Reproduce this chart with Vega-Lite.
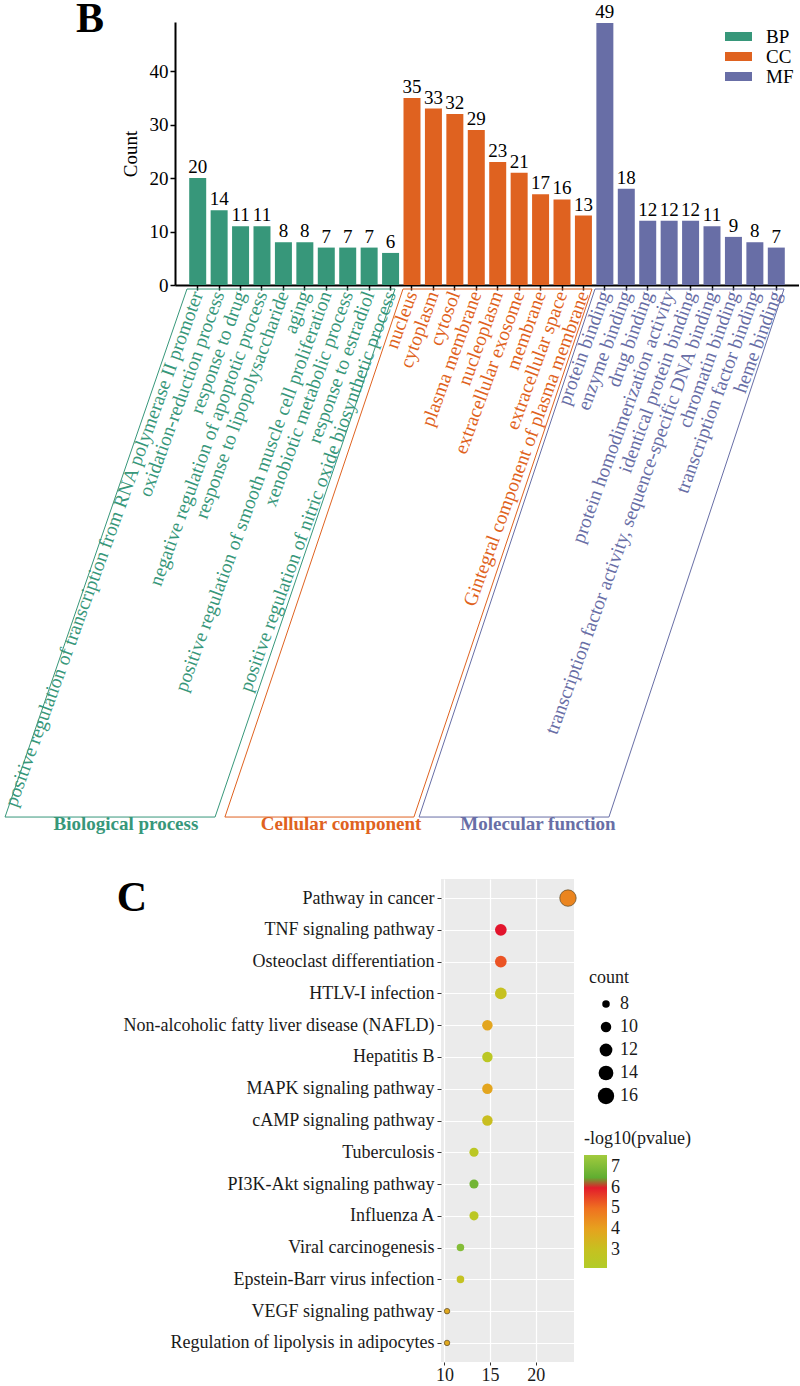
{
  "$schema": "https://vega.github.io/schema/vega-lite/v6.json",
  "padding": {"left": 0, "top": -2, "right": 0, "bottom": 0},
  "background": "white",
  "spacing": 42,
  "config": {
    "font": "Liberation Serif",
    "view": {"stroke": null},
    "axis": {"labelFont": "Liberation Serif", "titleFont": "Liberation Serif"},
    "legend": {"labelFont": "Liberation Serif", "titleFont": "Liberation Serif"},
    "text": {"font": "Liberation Serif"}
  },
  "resolve": {"scale": {"color": "independent", "size": "independent", "x": "independent", "y": "independent"}, "legend": {"color": "independent", "size": "independent"}},
  "vconcat": [
    {
      "width": 624,
      "height": 263,
      "resolve": {"scale": {"x": "independent"}},
      "layer": [
        {
          "data": {"values": [
            {"term": "positive regulation of transcription from RNA polymerase II promoter", "cat": "BP", "count": 20},
            {"term": "oxidation-reduction process", "cat": "BP", "count": 14},
            {"term": "response to drug", "cat": "BP", "count": 11},
            {"term": "negative regulation of apoptotic process", "cat": "BP", "count": 11},
            {"term": "response to lipopolysaccharide", "cat": "BP", "count": 8},
            {"term": "aging", "cat": "BP", "count": 8},
            {"term": "positive regulation of smooth muscle cell proliferation", "cat": "BP", "count": 7},
            {"term": "xenobiotic metabolic process", "cat": "BP", "count": 7},
            {"term": "response to estradiol", "cat": "BP", "count": 7},
            {"term": "positive regulation of nitric oxide biosynthetic process", "cat": "BP", "count": 6},
            {"term": "nucleus", "cat": "CC", "count": 35},
            {"term": "cytoplasm", "cat": "CC", "count": 33},
            {"term": "cytosol", "cat": "CC", "count": 32},
            {"term": "plasma membrane", "cat": "CC", "count": 29},
            {"term": "nucleoplasm", "cat": "CC", "count": 23},
            {"term": "extracellular exosome", "cat": "CC", "count": 21},
            {"term": "membrane", "cat": "CC", "count": 17},
            {"term": "extracellular space", "cat": "CC", "count": 16},
            {"term": "Gintegral component of plasma membrane", "cat": "CC", "count": 13},
            {"term": "protein binding", "cat": "MF", "count": 49},
            {"term": "enzyme binding", "cat": "MF", "count": 18},
            {"term": "drug binding", "cat": "MF", "count": 12},
            {"term": "protein homodimerization activity", "cat": "MF", "count": 12},
            {"term": "identical protein binding", "cat": "MF", "count": 12},
            {"term": "transcription factor activity, sequence-specific DNA binding", "cat": "MF", "count": 11},
            {"term": "chromatin binding", "cat": "MF", "count": 9},
            {"term": "transcription factor binding", "cat": "MF", "count": 8},
            {"term": "heme binding", "cat": "MF", "count": 7}
          ]},
          "layer": [
            {
              "mark": {"type": "bar"},
              "encoding": {
                "x": {"field": "term", "type": "nominal", "sort": null,
                  "scale": {"paddingInner": 0.207, "paddingOuter": 0.663},
                  "axis": {"title": null, "labels": false, "ticks": true, "tickSize": 5, "tickColor": "black", "tickWidth": 1.5, "domainColor": "black", "domainWidth": 2}},
                "y": {"field": "count", "type": "quantitative",
                  "scale": {"domain": [0, 49.2], "nice": false, "zero": true},
                  "axis": {"title": "Count", "titleFont": "Liberation Serif", "labelFont": "Liberation Serif", "titleFontSize": 19, "titleFontWeight": "normal", "titleColor": "black", "titlePadding": 9, "values": [0, 10, 20, 30, 40], "labelFontSize": 19, "labelColor": "black", "tickColor": "black", "tickSize": 5, "tickWidth": 1.5, "domainColor": "black", "domainWidth": 2, "labelPadding": 2, "labelFlush": false, "grid": false}},
                "color": {"field": "cat", "type": "nominal",
                  "scale": {"domain": ["BP", "CC", "MF"], "range": ["#37977a", "#df6220", "#686ea6"]},
                  "legend": {"title": null, "orient": "top-right", "offset": 5, "padding": 0, "labelFont": "Liberation Serif", "labelFontSize": 19, "labelColor": "black", "symbolType": "M-3,-1H3V1H-3Z", "symbolSize": 81, "symbolOffset": 9, "symbolStrokeWidth": 0, "symbolOpacity": 1, "labelOffset": 18, "rowPadding": 0}}
              }
            },
            {
              "mark": {"type": "text", "baseline": "alphabetic", "dy": -5, "fontSize": 19, "color": "black"},
              "encoding": {
                "x": {"field": "term", "type": "nominal", "sort": null},
                "y": {"field": "count", "type": "quantitative", "scale": {"domain": [0, 49.2], "nice": false, "zero": true}, "axis": {"title": "Count", "titleFont": "Liberation Serif", "labelFont": "Liberation Serif", "titleFontSize": 19, "titleFontWeight": "normal", "titleColor": "black", "titlePadding": 9, "values": [0, 10, 20, 30, 40], "labelFontSize": 19, "labelColor": "black", "tickColor": "black", "tickSize": 5, "tickWidth": 1.5, "domainColor": "black", "domainWidth": 2, "labelPadding": 2, "labelFlush": false, "grid": false}},
                "text": {"field": "count", "type": "quantitative"}
              }
            },
            {
              "mark": {"type": "text", "angle": 290, "align": "right", "baseline": "middle", "dx": -6.6, "dy": 2.3, "fontSize": 19.5},
              "encoding": {
                "x": {"field": "term", "type": "nominal", "sort": null},
                "y": {"datum": 0, "type": "quantitative"},
                "text": {"field": "term", "type": "nominal"},
                "color": {"field": "cat", "type": "nominal"}
              }
            }
          ]
        },
        {
          "layer": [
            {
              "data": {"values": [
                {"cat": "BP", "k": 0, "fx": -8.99, "fy": -99.53},
                {"cat": "BP", "k": 1, "fx": -0.5, "fy": -0.75},
                {"cat": "BP", "k": 2, "fx": 9.21, "fy": -0.75},
                {"cat": "BP", "k": 3, "fx": 0.81, "fy": -99.53},
                {"cat": "BP", "k": 4, "fx": -8.99, "fy": -99.53},
                {"cat": "CC", "k": 0, "fx": 1.27, "fy": -99.53},
                {"cat": "CC", "k": 1, "fx": 9.58, "fy": -0.75},
                {"cat": "CC", "k": 2, "fx": 18.4, "fy": -0.75},
                {"cat": "CC", "k": 3, "fx": 10.09, "fy": -99.53},
                {"cat": "CC", "k": 4, "fx": 1.27, "fy": -99.53},
                {"cat": "MF", "k": 0, "fx": 10.33, "fy": -99.53},
                {"cat": "MF", "k": 1, "fx": 18.54, "fy": -0.75},
                {"cat": "MF", "k": 2, "fx": 27.36, "fy": -0.75},
                {"cat": "MF", "k": 3, "fx": 19.19, "fy": -99.53},
                {"cat": "MF", "k": 4, "fx": 10.33, "fy": -99.53}
              ]},
              "mark": {"type": "line", "strokeWidth": 1},
              "encoding": {
                "x": {"field": "fx", "type": "quantitative", "scale": {"domain": [-1.059, 28.06], "nice": false, "zero": false}, "axis": null},
                "y": {"field": "fy", "type": "quantitative", "scale": {"domain": [0, 49.2], "nice": false, "zero": true}, "axis": {"title": "Count", "titleFont": "Liberation Serif", "labelFont": "Liberation Serif", "titleFontSize": 19, "titleFontWeight": "normal", "titleColor": "black", "titlePadding": 9, "values": [0, 10, 20, 30, 40], "labelFontSize": 19, "labelColor": "black", "tickColor": "black", "tickSize": 5, "tickWidth": 1.5, "domainColor": "black", "domainWidth": 2, "labelPadding": 2, "labelFlush": false, "grid": false}},
                "color": {"field": "cat", "type": "nominal"},
                "detail": {"field": "cat", "type": "nominal"},
                "order": {"field": "k", "type": "quantitative"}
              }
            },
            {
              "data": {"values": [
                {"cat": "BP", "label": "Biological process", "fx": -3.35, "fy": -100.84},
                {"cat": "CC", "label": "Cellular component", "fx": 6.69, "fy": -100.84},
                {"cat": "MF", "label": "Molecular function", "fx": 15.88, "fy": -100.84}
              ]},
              "mark": {"type": "text", "fontWeight": "bold", "fontSize": 19, "baseline": "middle"},
              "encoding": {
                "x": {"field": "fx", "type": "quantitative", "scale": {"domain": [-1.059, 28.06], "nice": false, "zero": false}, "axis": null},
                "y": {"field": "fy", "type": "quantitative", "scale": {"domain": [0, 49.2], "nice": false, "zero": true}, "axis": {"title": "Count", "titleFont": "Liberation Serif", "labelFont": "Liberation Serif", "titleFontSize": 19, "titleFontWeight": "normal", "titleColor": "black", "titlePadding": 9, "values": [0, 10, 20, 30, 40], "labelFontSize": 19, "labelColor": "black", "tickColor": "black", "tickSize": 5, "tickWidth": 1.5, "domainColor": "black", "domainWidth": 2, "labelPadding": 2, "labelFlush": false, "grid": false}},
                "text": {"field": "label", "type": "nominal"},
                "color": {"field": "cat", "type": "nominal"}
              }
            },
            {
              "data": {"values": [{"label": "B", "fx": -5.03, "fy": 49.75}]},
              "mark": {"type": "text", "fontWeight": "bold", "fontSize": 42, "baseline": "middle", "color": "black"},
              "encoding": {
                "x": {"field": "fx", "type": "quantitative", "scale": {"domain": [-1.059, 28.06], "nice": false, "zero": false}, "axis": null},
                "y": {"field": "fy", "type": "quantitative", "scale": {"domain": [0, 49.2], "nice": false, "zero": true}, "axis": {"title": "Count", "titleFont": "Liberation Serif", "labelFont": "Liberation Serif", "titleFontSize": 19, "titleFontWeight": "normal", "titleColor": "black", "titlePadding": 9, "values": [0, 10, 20, 30, 40], "labelFontSize": 19, "labelColor": "black", "tickColor": "black", "tickSize": 5, "tickWidth": 1.5, "domainColor": "black", "domainWidth": 2, "labelPadding": 2, "labelFlush": false, "grid": false}},
                "text": {"field": "label", "type": "nominal"}
              }
            }
          ]
        }
      ]
    },
    {
      "bounds": "flush",
      "spacing": 0,
      "resolve": {"scale": {"color": "independent", "size": "independent", "x": "independent", "y": "independent"}, "legend": {"color": "independent", "size": "independent"}},
      "hconcat": [
        {
          "width": 266,
          "height": 1,
          "data": {"values": []},
          "mark": "point"
        },
        {
          "width": 133,
          "height": 483,
          "view": {"fill": "#ebebeb", "stroke": null},
          "layer": [
            {
              "data": {"values": [
                {"pathway": "Pathway in cancer", "ratio": 23.53, "count": 16, "nlp": 4.6},
                {"pathway": "TNF signaling pathway", "ratio": 16.18, "count": 11, "nlp": 6.1},
                {"pathway": "Osteoclast differentiation", "ratio": 16.18, "count": 11, "nlp": 5.35},
                {"pathway": "HTLV-I infection", "ratio": 16.18, "count": 11, "nlp": 3.0},
                {"pathway": "Non-alcoholic fatty liver disease (NAFLD)", "ratio": 14.71, "count": 10, "nlp": 3.9},
                {"pathway": "Hepatitis B", "ratio": 14.71, "count": 10, "nlp": 2.5},
                {"pathway": "MAPK signaling pathway", "ratio": 14.71, "count": 10, "nlp": 3.9},
                {"pathway": "cAMP signaling pathway", "ratio": 14.71, "count": 10, "nlp": 3.1},
                {"pathway": "Tuberculosis", "ratio": 13.24, "count": 9, "nlp": 2.5},
                {"pathway": "PI3K-Akt signaling pathway", "ratio": 13.24, "count": 9, "nlp": 6.8},
                {"pathway": "Influenza A", "ratio": 13.24, "count": 9, "nlp": 2.5},
                {"pathway": "Viral carcinogenesis", "ratio": 11.76, "count": 8, "nlp": 7.1},
                {"pathway": "Epstein-Barr virus infection", "ratio": 11.76, "count": 8, "nlp": 2.9},
                {"pathway": "VEGF signaling pathway", "ratio": 10.29, "count": 7, "nlp": 3.8},
                {"pathway": "Regulation of lipolysis in adipocytes", "ratio": 10.29, "count": 7, "nlp": 3.8}
              ]},
              "mark": {"type": "circle", "opacity": 1, "strokeWidth": 0.7},
              "encoding": {
                "x": {"field": "ratio", "type": "quantitative",
                  "scale": {"domain": [9.63, 24.19], "nice": false, "zero": false},
                  "axis": {"title": null, "labelFont": "Liberation Serif", "values": [10, 12.5, 15, 17.5, 20, 22.5], "labelExpr": "datum.value % 5 === 0 ? datum.label : ''", "grid": true, "gridColor": "white", "gridWidth": {"condition": {"test": "datum.value % 5 === 0", "value": 1.2}, "value": 0.5}, "tickOpacity": {"condition": {"test": "datum.value % 5 === 0", "value": 1}, "value": 0}, "tickSize": 3, "tickColor": "#333333", "labelFontSize": 18, "labelColor": "#1a1a1a", "domain": false, "labelPadding": 1, "labelFlush": false}},
                "y": {"field": "pathway", "type": "nominal",
                  "scale": {"domain": ["Pathway in cancer", "TNF signaling pathway", "Osteoclast differentiation", "HTLV-I infection", "Non-alcoholic fatty liver disease (NAFLD)", "Hepatitis B", "MAPK signaling pathway", "cAMP signaling pathway", "Tuberculosis", "PI3K-Akt signaling pathway", "Influenza A", "Viral carcinogenesis", "Epstein-Barr virus infection", "VEGF signaling pathway", "Regulation of lipolysis in adipocytes"], "padding": 0.6},
                  "axis": {"title": null, "labelFont": "Liberation Serif", "labelFontSize": 18, "labelColor": "#1a1a1a", "tickSize": 4, "tickColor": "#333333", "labelPadding": 3, "domain": false, "grid": true, "gridColor": "white", "gridWidth": 1.2, "labelLimit": 0}},
                "size": {"field": "count", "type": "quantitative",
                  "scale": {"domain": [7, 16], "range": [30, 270], "zero": false},
                  "legend": {"orient": "none", "legendX": 148, "legendY": 90, "title": "count", "titleFont": "Liberation Serif", "labelFont": "Liberation Serif", "titleFontSize": 18, "titleFontWeight": "normal", "titleColor": "#1a1a1a", "labelFontSize": 18, "labelColor": "#1a1a1a", "values": [8, 10, 12, 14, 16], "symbolType": "circle", "symbolFillColor": "black", "symbolStrokeWidth": 0, "symbolOffset": 8, "rowPadding": 5, "labelOffset": 5, "titlePadding": 8}},
                "color": {"field": "nlp", "type": "quantitative",
                  "scale": {"type": "linear", "domain": [2.1, 3, 4, 5, 6.1, 6.4, 7.6], "range": ["#b2cc28", "#c6c120", "#e6a21e", "#ef7120", "#e2142c", "#5aaa30", "#a2cb3d"], "interpolate": "rgb"},
                  "legend": {"orient": "none", "legendX": 143, "legendY": 251, "title": "-log10(pvalue)", "titleFont": "Liberation Serif", "labelFont": "Liberation Serif", "titleFontSize": 18, "titleFontWeight": "normal", "titleColor": "#1a1a1a", "direction": "vertical", "gradientLength": 113, "gradientThickness": 23, "gradientStrokeWidth": 0, "values": [3, 4, 5, 6, 7], "labelFontSize": 18, "labelColor": "#1a1a1a", "labelOffset": 4, "labelOverlap": false, "titlePadding": 7}},
                "stroke": {"condition": {"test": "datum.count >= 16 || datum.count <= 7", "value": "#5b4a2a"}, "value": null}
              }
            },
            {
              "data": {"values": [{"label": "C", "xpos": -24.2, "pathway": "Pathway in cancer"}]},
              "mark": {"type": "text", "fontSize": 42, "fontWeight": "bold", "baseline": "middle", "color": "black"},
              "encoding": {
                "x": {"field": "xpos", "type": "quantitative", "scale": {"domain": [9.63, 24.19], "nice": false, "zero": false}},
                "y": {"field": "pathway", "type": "nominal", "scale": {"domain": ["Pathway in cancer", "TNF signaling pathway", "Osteoclast differentiation", "HTLV-I infection", "Non-alcoholic fatty liver disease (NAFLD)", "Hepatitis B", "MAPK signaling pathway", "cAMP signaling pathway", "Tuberculosis", "PI3K-Akt signaling pathway", "Influenza A", "Viral carcinogenesis", "Epstein-Barr virus infection", "VEGF signaling pathway", "Regulation of lipolysis in adipocytes"], "padding": 0.6}},
                "text": {"field": "label", "type": "nominal"}
              }
            }
          ]
        }
      ]
    }
  ]
}
